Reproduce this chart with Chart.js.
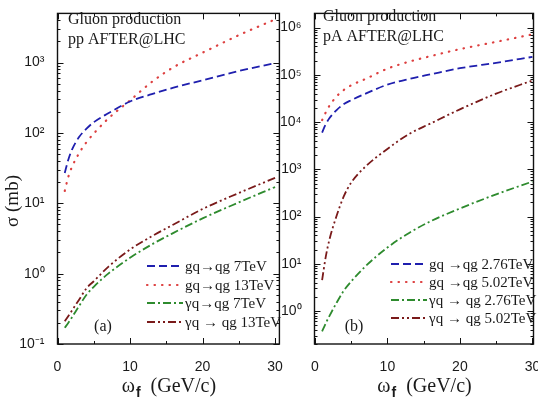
<!DOCTYPE html>
<html>
<head>
<meta charset="utf-8">
<script src="https://cdn.jsdelivr.net/npm/chart.js@4.4.1/dist/chart.umd.min.js"></script>
<style>
html, body { margin: 0; padding: 0; background: #fff; overflow: hidden; }
#wrap { position: relative; width: 538px; height: 411px; overflow: hidden; }
canvas { position: absolute; top: 0; }
</style>
</head>
<body>
<div id="wrap">
  <canvas id="ppChart" width="290" height="411" style="left:0px"></canvas>
  <canvas id="paChart" width="290" height="411" style="left:270px"></canvas>
</div>
<script>
// omega_f (GeV/c)
var wf = [1, 1.5, 2, 3, 4, 5, 7, 10, 13, 16, 20, 25, 30]

// (a) pp AFTER@LHC, sigma in mb
var pp_gq_7 = [27, 42, 58, 88, 115, 142, 190, 280, 355, 440, 560, 760, 980]
var pp_gq_13 = [15, 24, 33, 52, 74, 98, 160, 290, 530, 860, 1380, 2450, 4100]
var pp_yq_7 = [0.17, 0.2, 0.24, 0.35, 0.5, 0.65, 1.0, 1.68, 2.6, 3.8, 6.1, 10.3, 17]
var pp_yq_13 = [0.21, 0.25, 0.3, 0.43, 0.62, 0.78, 1.25, 2.2, 3.4, 5.0, 8.3, 14, 23]

// (b) pA AFTER@LHC, sigma in mb
var pa_gq_276 = [6000, 9000, 12000, 18000, 24000, 29000, 40000, 62000, 82000, 103000, 138000, 180000, 240000]
var pa_gq_502 = [11000, 16000, 22000, 35000, 48000, 60000, 82000, 135000, 190000, 250000, 350000, 500000, 720000]
var pa_yq_276 = [0.37, 0.55, 0.78, 1.5, 2.7, 4.2, 8.9, 22, 45, 80, 148, 295, 550]
var pa_yq_502 = [4.5, 14, 32, 104, 270, 520, 1150, 2700, 5600, 9400, 18600, 40000, 76000]

var ppLabels = ['gq\u2192qg 7TeV', 'gq\u2192qg 13TeV', '\u03B3q\u2192qg 7TeV', '\u03B3q \u2192 qg 13TeV']
var paLabels = ['gq \u2192qg 2.76TeV', 'gq \u2192qg 5.02TeV', '\u03B3q \u2192 qg 2.76TeV', '\u03B3q \u2192 qg 5.02TeV']

var xTicks = [0, 10, 20, 30]

var styles = [
    { color: '#1f1fae', dash: [8, 4], width: 1.8, cap: 'butt' },
    { color: '#dd4040', dash: [0.5, 7], width: 2.2, cap: 'round' },
    { color: '#2e8b2e', dash: [8, 3, 2, 3], width: 1.8, cap: 'butt' },
    { color: '#7a1a1a', dash: [8, 3, 2, 3, 2, 3], width: 1.8, cap: 'butt' }
]

var SERIF = '"Liberation Serif", "Times New Roman", serif'
var SANS = '"Liberation Sans", Arial, sans-serif'
var SUP = { '-': '\u207B', '0': '\u2070', '1': '\u00B9', '2': '\u00B2', '3': '\u00B3', '4': '\u2074', '5': '\u2075', '6': '\u2076' }

function pow10Label(v) {
    var e = String(Math.round(Math.log10(v)))
    var s = ''
    for (var i = 0; i < e.length; i++) s += SUP[e[i]]
    return '10' + s
}

function makeSets(arrays, labels) {
    return arrays.map(function(arr, k) {
        return {
            label: labels[k],
            data: wf.map(function(x, i) { return { x: x, y: arr[i] } }),
            borderColor: styles[k].color,
            borderDash: styles[k].dash,
            borderWidth: styles[k].width,
            borderCapStyle: styles[k].cap,
            pointRadius: 0,
            fill: false,
            cubicInterpolationMode: 'monotone'
        }
    })
}

// frame, inward ticks, notes, legend and axis titles
var framePlugin = {
    id: 'frame',
    afterDraw: function(chart) {
        var o = chart.options.plugins.frame
        var ctx = chart.ctx, a = chart.chartArea
        var xs = chart.scales.x, ys = chart.scales.y
        ctx.save()
        ctx.strokeStyle = '#111'
        ctx.lineWidth = 1.4
        ctx.strokeRect(a.left, a.top, a.right - a.left, a.bottom - a.top)
        ctx.lineWidth = 1
        ctx.beginPath()
        for (var v = 0; v <= 30; v += 5) {
            var px = Math.round(xs.getPixelForValue(v)) + 0.5
            var len = v % 10 == 0 ? 6 : 3
            ctx.moveTo(px, a.bottom); ctx.lineTo(px, a.bottom - len)
            ctx.moveTo(px, a.top); ctx.lineTo(px, a.top + len)
        }
        for (var e = -1; e <= 6; e++) {
            for (var m = 1; m < 10; m++) {
                var val = m * Math.pow(10, e)
                if (val < ys.min || val > ys.max) continue
                var py = Math.round(ys.getPixelForValue(val)) + 0.5
                var l2 = m == 1 ? 6 : 3
                ctx.moveTo(a.left, py); ctx.lineTo(a.left + l2, py)
                ctx.moveTo(a.right, py); ctx.lineTo(a.right - l2, py)
            }
        }
        ctx.stroke()

        ctx.fillStyle = '#1a1a1a'
        ctx.textBaseline = 'middle'

        // notes
        ctx.font = '16px ' + SERIF
        ctx.textAlign = 'left'
        o.notes.forEach(function(n) { ctx.fillText(n.text, n.x, n.y) })
        ctx.textAlign = 'center'
        ctx.fillText(o.letter.text, o.letter.x, o.letter.y)

        // legend
        var lg = o.legend
        ctx.font = '15px ' + SERIF
        ctx.textAlign = 'left'
        chart.data.datasets.forEach(function(ds, i) {
            var y = lg.rows[i]
            ctx.save()
            ctx.strokeStyle = ds.borderColor
            ctx.lineWidth = ds.borderWidth
            ctx.lineCap = ds.borderCapStyle
            ctx.setLineDash(ds.borderDash)
            ctx.beginPath()
            ctx.moveTo(lg.x0, y); ctx.lineTo(lg.x1, y)
            ctx.stroke()
            ctx.restore()
            ctx.fillText(ds.label, lg.tx, y + 1)
        })

        // x title: omega_f (GeV/c)
        var cx = (a.left + a.right) / 2, ty = 387
        ctx.font = '20px ' + SERIF
        var w1 = ctx.measureText('\u03C9').width
        var w3 = ctx.measureText('  (GeV/c)').width
        ctx.font = 'bold 14px ' + SANS
        var w2 = ctx.measureText('f').width
        var sx = cx - (w1 + w2 + w3) / 2
        ctx.textAlign = 'left'
        ctx.font = '20px ' + SERIF
        ctx.fillText('\u03C9', sx, ty)
        ctx.font = 'bold 14px ' + SANS
        ctx.fillText('f', sx + w1 + 1, ty + 6)
        ctx.font = '20px ' + SERIF
        ctx.fillText('  (GeV/c)', sx + w1 + w2 + 1, ty)

        // y title
        if (o.yTitle) {
            ctx.save()
            ctx.translate(13, 201)
            ctx.rotate(-Math.PI / 2)
            ctx.textAlign = 'center'
            ctx.font = '19px ' + SERIF
            ctx.fillText(o.yTitle, 0, 0)
            ctx.restore()
        }
        ctx.restore()
    }
}

function makeChart(id, sets, xr, yr, yWidth, padRight, frame) {
    return new Chart(document.getElementById(id), {
        type: 'line',
        data: { datasets: sets },
        plugins: [framePlugin],
        options: {
            responsive: false,
            animation: false,
            devicePixelRatio: 1,
            layout: { padding: { top: 2, right: padRight, left: 0, bottom: 0 } },
            plugins: { legend: { display: false }, tooltip: { enabled: false }, frame: frame },
            scales: {
                x: {
                    type: 'linear', min: xr[0], max: xr[1],
                    grid: { display: false }, border: { display: false },
                    afterBuildTicks: function(s) { s.ticks = xTicks.map(function(v) { return { value: v } }) },
                    afterFit: function(s) { s.height = 67 },
                    ticks: { padding: 7, maxRotation: 0, color: '#1a1a1a', font: { family: SANS, size: 14 } }
                },
                y: {
                    type: 'logarithmic', min: yr[0], max: yr[1],
                    grid: { display: false }, border: { display: false },
                    afterBuildTicks: function(s) {
                        var t = []
                        for (var e = -1; e <= 6; e++) {
                            var v = Math.pow(10, e)
                            if (v >= yr[0] && v <= yr[1]) t.push({ value: v })
                        }
                        s.ticks = t
                    },
                    afterFit: function(s) { s.width = yWidth },
                    ticks: {
                        padding: 5, color: '#1a1a1a', font: { family: SANS, size: 14 },
                        callback: function(v) { return pow10Label(v) }
                    }
                }
            }
        }
    })
}

makeChart('ppChart', makeSets([pp_gq_7, pp_gq_13, pp_yq_7, pp_yq_13], ppLabels),
    [0, 30.6], [0.1, 5000], 57.5, 8, {
        notes: [{ text: 'Gluon production', x: 68, y: 20 }, { text: 'pp AFTER@LHC', x: 68, y: 40 }],
        letter: { text: '(a)', x: 103, y: 327 },
        legend: { x0: 147, x1: 183, tx: 185, rows: [266, 285, 303, 322] },
        yTitle: '\u03C3 (mb)'
    })

makeChart('paChart', makeSets([pa_gq_276, pa_gq_502, pa_yq_276, pa_yq_502], paLabels),
    [-0.05, 30.15], [0.2, 2e6], 44.5, 26.5, {
        notes: [{ text: 'Gluon production', x: 53, y: 17 }, { text: 'pA AFTER@LHC', x: 53, y: 37 }],
        letter: { text: '(b)', x: 84, y: 327 },
        legend: { x0: 121, x1: 157, tx: 159, rows: [264, 282, 300, 318] },
        yTitle: null
    })
</script>
</body>
</html>
